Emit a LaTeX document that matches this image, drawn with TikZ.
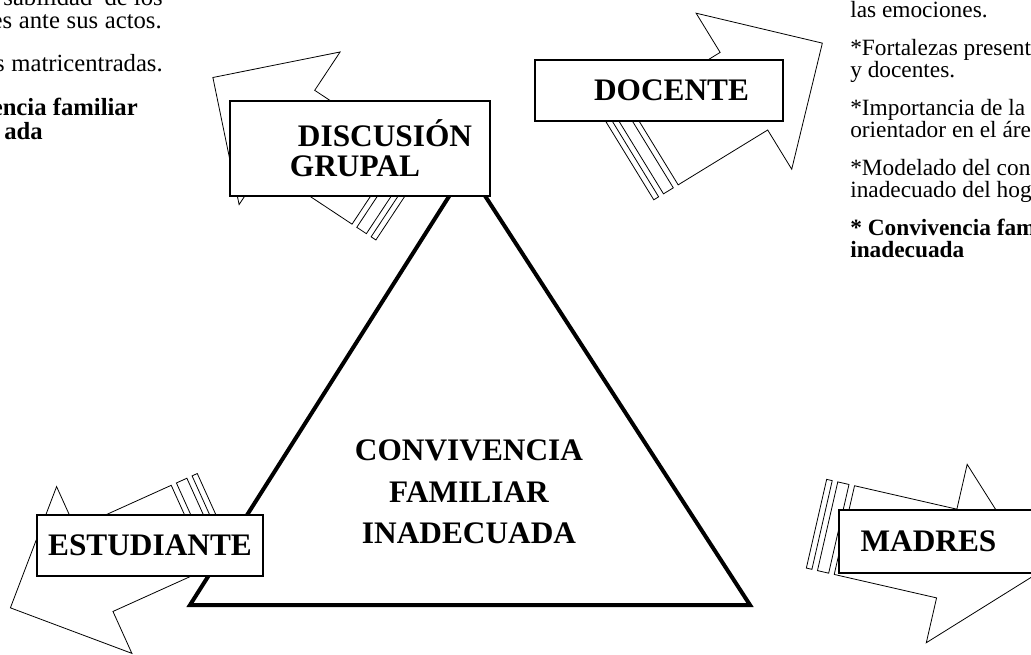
\documentclass[tikz,border=0pt]{standalone}
\usepackage{fontspec}
\setmainfont{Liberation Serif}
\newcommand\bodyfont{\fontsize{17.5pt}{21pt}\selectfont}
\newcommand\leftfont{\fontsize{18.5pt}{22pt}\selectfont}
\newcommand\labelfont{\fontsize{23.5pt}{22.5pt}\selectfont\bfseries}
\begin{document}
\begin{tikzpicture}[x=0.75pt, y=-0.75pt,
    stripearrow/.style={draw, line width=0.6pt, fill=white, line join=miter},
    labelbox/.style={draw, line width=1.5pt, fill=white, font=\labelfont, align=left, inner sep=0pt},
    notes/.style={font=\bodyfont, inner sep=0pt},
    leftnotes/.style={font=\leftfont, inner sep=0pt, anchor=base east},
    core/.style={font=\fontsize{23.5pt}{31pt}\selectfont\bfseries, align=center, inner sep=0pt}]

  \useasboundingbox (0,0) rectangle (1031,654);
  \clip (0,0) rectangle (1031,654);

  % central triangle
  \draw[line width=3pt] (467,168) -- (190,605) -- (750,605) -- cycle;
  \node[core] (convivencia) at (469,492) {CONVIVENCIA\\FAMILIAR\\INADECUADA};

  % striped arrows: tail centre x / y / direction
  \foreach \cx/\cy/\ang in {401/202/146.5, 630/161/31.5, 216/515/204.3, 816.5/523.7/-12.9}{
    \begin{scope}[shift={(\cx,\cy)}, rotate=\ang]
      \draw[stripearrow] (0,-45.5) rectangle (5.7,45.5);
      \draw[stripearrow] (11.4,-45.5) rectangle (22.9,45.5);
      \draw[stripearrow] (28.6,-45.5) -- (133.6,-45.5) -- (133.6,-91.5) -- (225.6,0)
        -- (133.6,91.5) -- (133.6,45.5) -- (28.6,45.5) -- cycle;
    \end{scope}
  }

  % label boxes
  \node[labelbox, minimum width=195pt, minimum height=71.25pt] (discusion) at (360,148.5)
    {\hspace*{37.5pt}DISCUSIÓN\\\hspace*{31.5pt}GRUPAL};
  \node[labelbox, minimum width=186pt, minimum height=45.75pt] (docente) at (659,90.5)
    {\hspace*{18.75pt}DOCENTE};
  \node[labelbox, minimum width=169.5pt, minimum height=45.75pt] (estudiante) at (150,545.5)
    {ESTUDIANTE};
  \node[labelbox, minimum width=154.5pt, minimum height=47.25pt] (madres) at (942,541.5)
    {MADRES\hspace*{20.25pt}};

  % left notes (cut by the page edge)
  \node[leftnotes] (left1) at (163,5) {sabilidad\hspace{9pt}de los};
  \node[leftnotes] (left2) at (162,28) {es\hspace{5pt}ante\hspace{5pt}sus\hspace{5pt}actos.};
  \node[leftnotes] (left3) at (163,71) {s\hspace{5pt}matricentradas.};
  \node[leftnotes, font=\leftfont\bfseries] (left4) at (138,115) {encia familiar};
  \node[leftnotes, font=\leftfont\bfseries] (left5) at (43,139) {ada};

  % right notes (cut by the page edge)
  \node[notes, anchor=base west] (right1) at (850,17) {las emociones.};
  \node[notes, anchor=base west] (right2) at (850,55) {*Fortalezas present};
  \node[notes, anchor=base west] (right3) at (850,77.5) {y docentes.};
  \node[notes, anchor=base west] (right4) at (850,115) {*Importancia de la};
  \node[notes, anchor=base west] (right5) at (850,137.5) {orientador en el áre};
  \node[notes, anchor=base west] (right6) at (850,175) {*Modelado del con};
  \node[notes, anchor=base west] (right7) at (850,197.5) {inadecuado del hog};
  \node[notes, font=\bodyfont\bfseries, anchor=base west] (right8) at (850,235) {* Convivencia fam};
  \node[notes, font=\bodyfont\bfseries, anchor=base west] (right9) at (850,257.5) {inadecuada};
\end{tikzpicture}
\end{document}
